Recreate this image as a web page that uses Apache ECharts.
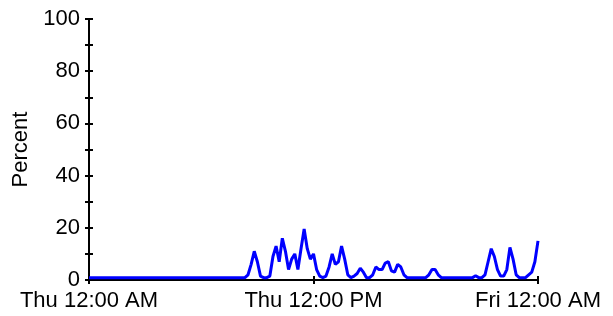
<!DOCTYPE html>
<html>
<head>
<meta charset="utf-8">
<script src="https://cdn.jsdelivr.net/npm/echarts@6/dist/echarts.min.js"></script>
<style>
  html, body { margin: 0; padding: 0; background: #fff; }
  #chart { width: 613px; height: 316px; }
</style>
</head>
<body>
<div id="chart"></div>
<script>
// one sample every 10 minutes, Thu 12:00 AM .. Fri 12:00 AM
const stepMinutes = 10;
const xLabels = ['Thu 12:00 AM', 'Thu 12:00 PM', 'Fri 12:00 AM'];
const yTicks = [0, 20, 40, 60, 80, 100];
const percent = [
  0.9, 0.9, 0.9, 0.9, 0.9, 0.9, 0.9, 0.9, 0.9, 0.9,
  0.9, 0.9, 0.9, 0.9, 0.9, 0.9, 0.9, 0.9, 0.9, 0.9,
  0.9, 0.9, 0.9, 0.9, 0.9, 0.9, 0.9, 0.9, 0.9, 0.9,
  0.9, 0.9, 0.9, 0.9, 0.9, 0.9, 0.9, 0.9, 0.9, 0.9,
  0.9, 0.9, 0.9, 0.9, 0.9, 0.9, 0.9, 0.9, 0.9, 0.9,
  0.9, 2, 6, 11, 7, 1.5, 0.9, 0.9, 1.5, 9,
  13, 7, 16, 11, 4, 8, 10, 4, 12, 19.5,
  12, 8, 10, 4, 1.5, 0.9, 1.5, 5, 10, 6,
  7, 13, 8, 2, 0.9, 1.5, 2.5, 4.5, 3, 0.9,
  0.9, 2, 5, 4, 4, 6.5, 7, 3.5, 3, 6,
  5, 2, 0.9, 0.9, 0.9, 0.9, 0.9, 0.9, 0.9, 2,
  4, 4, 2, 0.9, 0.9, 0.9, 0.9, 0.9, 0.9, 0.9,
  0.9, 0.9, 0.9, 0.9, 1.6, 0.9, 0.9, 2, 7, 12,
  9, 4, 1.5, 1.5, 4, 12.5, 8, 2, 0.9, 0.9,
  0.9, 2, 3, 7, 15
];

const data = percent.map((v, i) => [i * stepMinutes / 60, v]);
const font = 'Liberation Sans';
const axisCol = '#000';

const chart = echarts.init(document.getElementById('chart'));
chart.setOption({
  animation: false,
  backgroundColor: '#fff',
  grid: { left: 89, right: 75, top: 19, bottom: 36 },
  xAxis: [
    {
      type: 'value', min: 0, max: 24, interval: 12,
      axisLine: { lineStyle: { color: axisCol, width: 2 } },
      axisTick: { length: 4, lineStyle: { color: axisCol, width: 2 } },
      splitLine: { show: false },
      axisLabel: {
        color: '#000', fontFamily: font, fontSize: 22, margin: 10,
        showMinLabel: true, showMaxLabel: true,
        formatter: v => xLabels[Math.round(v / 12)]
      }
    },
    {
      type: 'value', min: 0, max: 24, interval: 12, position: 'bottom', offset: 0,
      axisLine: { show: true, lineStyle: { color: axisCol, width: 2 } },
      axisTick: { show: true, inside: true, length: 4, lineStyle: { color: axisCol, width: 2 } },
      axisLabel: { show: false },
      splitLine: { show: false }
    }
  ],
  yAxis: [
    {
      type: 'value', min: 0, max: 100, interval: 10,
      name: 'Percent', nameLocation: 'middle', nameGap: 57,
      nameTextStyle: { color: '#000', fontFamily: font, fontSize: 22 },
      axisLine: { show: true, lineStyle: { color: axisCol, width: 2 } },
      axisTick: { show: true, length: 4, lineStyle: { color: axisCol, width: 2 } },
      splitLine: { show: false },
      axisLabel: {
        color: '#000', fontFamily: font, fontSize: 22, margin: 9,
        formatter: v => (yTicks.indexOf(v) >= 0 ? String(v) : '')
      }
    },
    {
      type: 'value', min: 0, max: 100, interval: 10, position: 'left', offset: 0,
      axisLine: { show: true, lineStyle: { color: axisCol, width: 2 } },
      axisTick: { show: true, inside: true, length: 4, lineStyle: { color: axisCol, width: 2 } },
      axisLabel: { show: false },
      splitLine: { show: false }
    }
  ],
  series: [
    {
      type: 'line',
      data: data,
      showSymbol: false,
      lineStyle: { color: '#0000ff', width: 3 },
      z: 3
    }
  ]
});
</script>
</body>
</html>
